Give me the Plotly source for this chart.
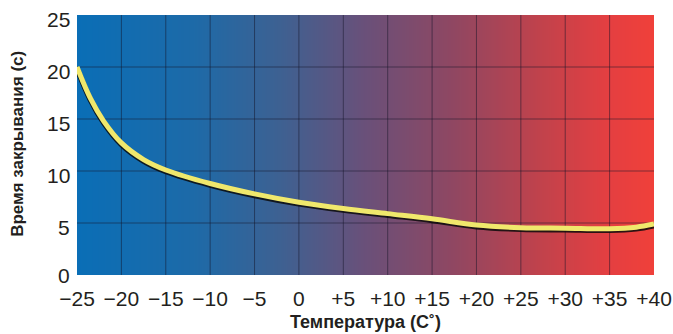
import plotly.graph_objects as go

# Data
temps = [-25, -23.5, -22, -20, -17.5, -15, -10, -5, 0, 5, 10, 15, 20, 25, 30, 35, 38, 40]
close_time = [20.0, 17.0, 14.8, 12.7, 11.1, 10.1, 8.8, 7.8, 7.0, 6.4, 5.9, 5.4, 4.8, 4.55, 4.5, 4.45, 4.6, 4.9]

x_ticks = [-25, -20, -15, -10, -5, 0, 5, 10, 15, 20, 25, 30, 35, 40]
x_labels = ["\u221225", "\u221220", "\u221215", "\u221210", "\u22125", "0", "+5", "+10", "+15", "+20", "+25", "+30", "+35", "+40"]
y_ticks = [0, 5, 10, 15, 20, 25]
y_labels = ["0", "5", "10", "15", "20", "25"]

x_title = "Температура (С˚)"
y_title = "Время закрывания (с)"

xmin, xmax = x_ticks[0], x_ticks[-1]
ymin, ymax = y_ticks[0], y_ticks[-1]

fig = go.Figure()

# gradient background
fig.add_trace(go.Heatmap(
    x=[xmin, xmax], y=[ymin, ymax],
    z=[[xmin, xmax], [xmin, xmax]],
    zsmooth="best", showscale=False, hoverinfo="skip",
    colorscale=[
        [0.0, "#0a6eb6"],
        [0.2, "#1d6aa8"],
        [0.35, "#3d6192"],
        [0.5, "#6a5079"],
        [0.65, "#8f4762"],
        [0.8, "#c0424c"],
        [0.92, "#e43f41"],
        [1.0, "#f0403a"],
    ],
))

# grid lines above background, below curve
grid_style = dict(color="rgba(20,20,40,0.5)", width=1)
for xv in x_ticks[1:-1]:
    fig.add_trace(go.Scatter(x=[xv, xv], y=[ymin, ymax], mode="lines",
                             line=grid_style, hoverinfo="skip", showlegend=False))
for yv in y_ticks[1:-1]:
    fig.add_trace(go.Scatter(x=[xmin, xmax], y=[yv, yv], mode="lines",
                             line=grid_style, hoverinfo="skip", showlegend=False))

# shadow
fig.add_trace(go.Scatter(x=temps, y=[v - 0.15 for v in close_time], mode="lines",
                         line=dict(color="rgba(10,10,10,0.85)", width=5.5, shape="spline", smoothing=1.0),
                         hoverinfo="skip", showlegend=False))
# curve
fig.add_trace(go.Scatter(x=temps, y=close_time, mode="lines",
                         line=dict(color="#f0e86c", width=5, shape="spline", smoothing=1.0),
                         showlegend=False))

annotations = [
    dict(text="<b>" + x_title + "</b>", xref="paper", yref="paper",
         x=0.5, y=-0.18, xanchor="center", yanchor="middle",
         showarrow=False, font=dict(size=18)),
    dict(text="<b>" + y_title + "</b>", xref="paper", yref="paper",
         x=-0.102, y=0.505, xanchor="center", yanchor="middle", textangle=-90,
         showarrow=False, font=dict(size=17)),
]
# y tick labels (sit slightly below their grid lines in the reference)
for yv, lab in zip(y_ticks, y_labels):
    annotations.append(dict(text=lab, xref="paper", yref="y", x=0, y=yv,
                            xanchor="right", yanchor="middle", xshift=-5,
                            yshift=-4 if yv > 0 else 0,
                            showarrow=False, font=dict(size=21)))

fig.update_layout(
    width=673, height=334,
    margin=dict(l=77, r=19, t=15, b=59),
    paper_bgcolor="white", plot_bgcolor="white",
    font=dict(family="Liberation Sans, Arial, sans-serif", color="#231f20"),
    annotations=annotations,
)
fig.update_xaxes(
    range=[xmin, xmax], tickvals=x_ticks, ticktext=x_labels,
    tickfont=dict(size=21), showgrid=False, zeroline=False, showline=False,
    ticks="outside", ticklen=5, tickcolor="rgba(0,0,0,0)", automargin=False,
    ticklabeloverflow="allow",
)
fig.update_yaxes(
    range=[ymin, ymax], tickvals=y_ticks, showticklabels=False,
    showgrid=False, zeroline=False, showline=False,
    ticks="", automargin=False,
)

fig.write_html("out.html", config={"displayModeBar": False},
               post_script="document.body.style.margin='0';document.body.style.overflow='hidden';")
